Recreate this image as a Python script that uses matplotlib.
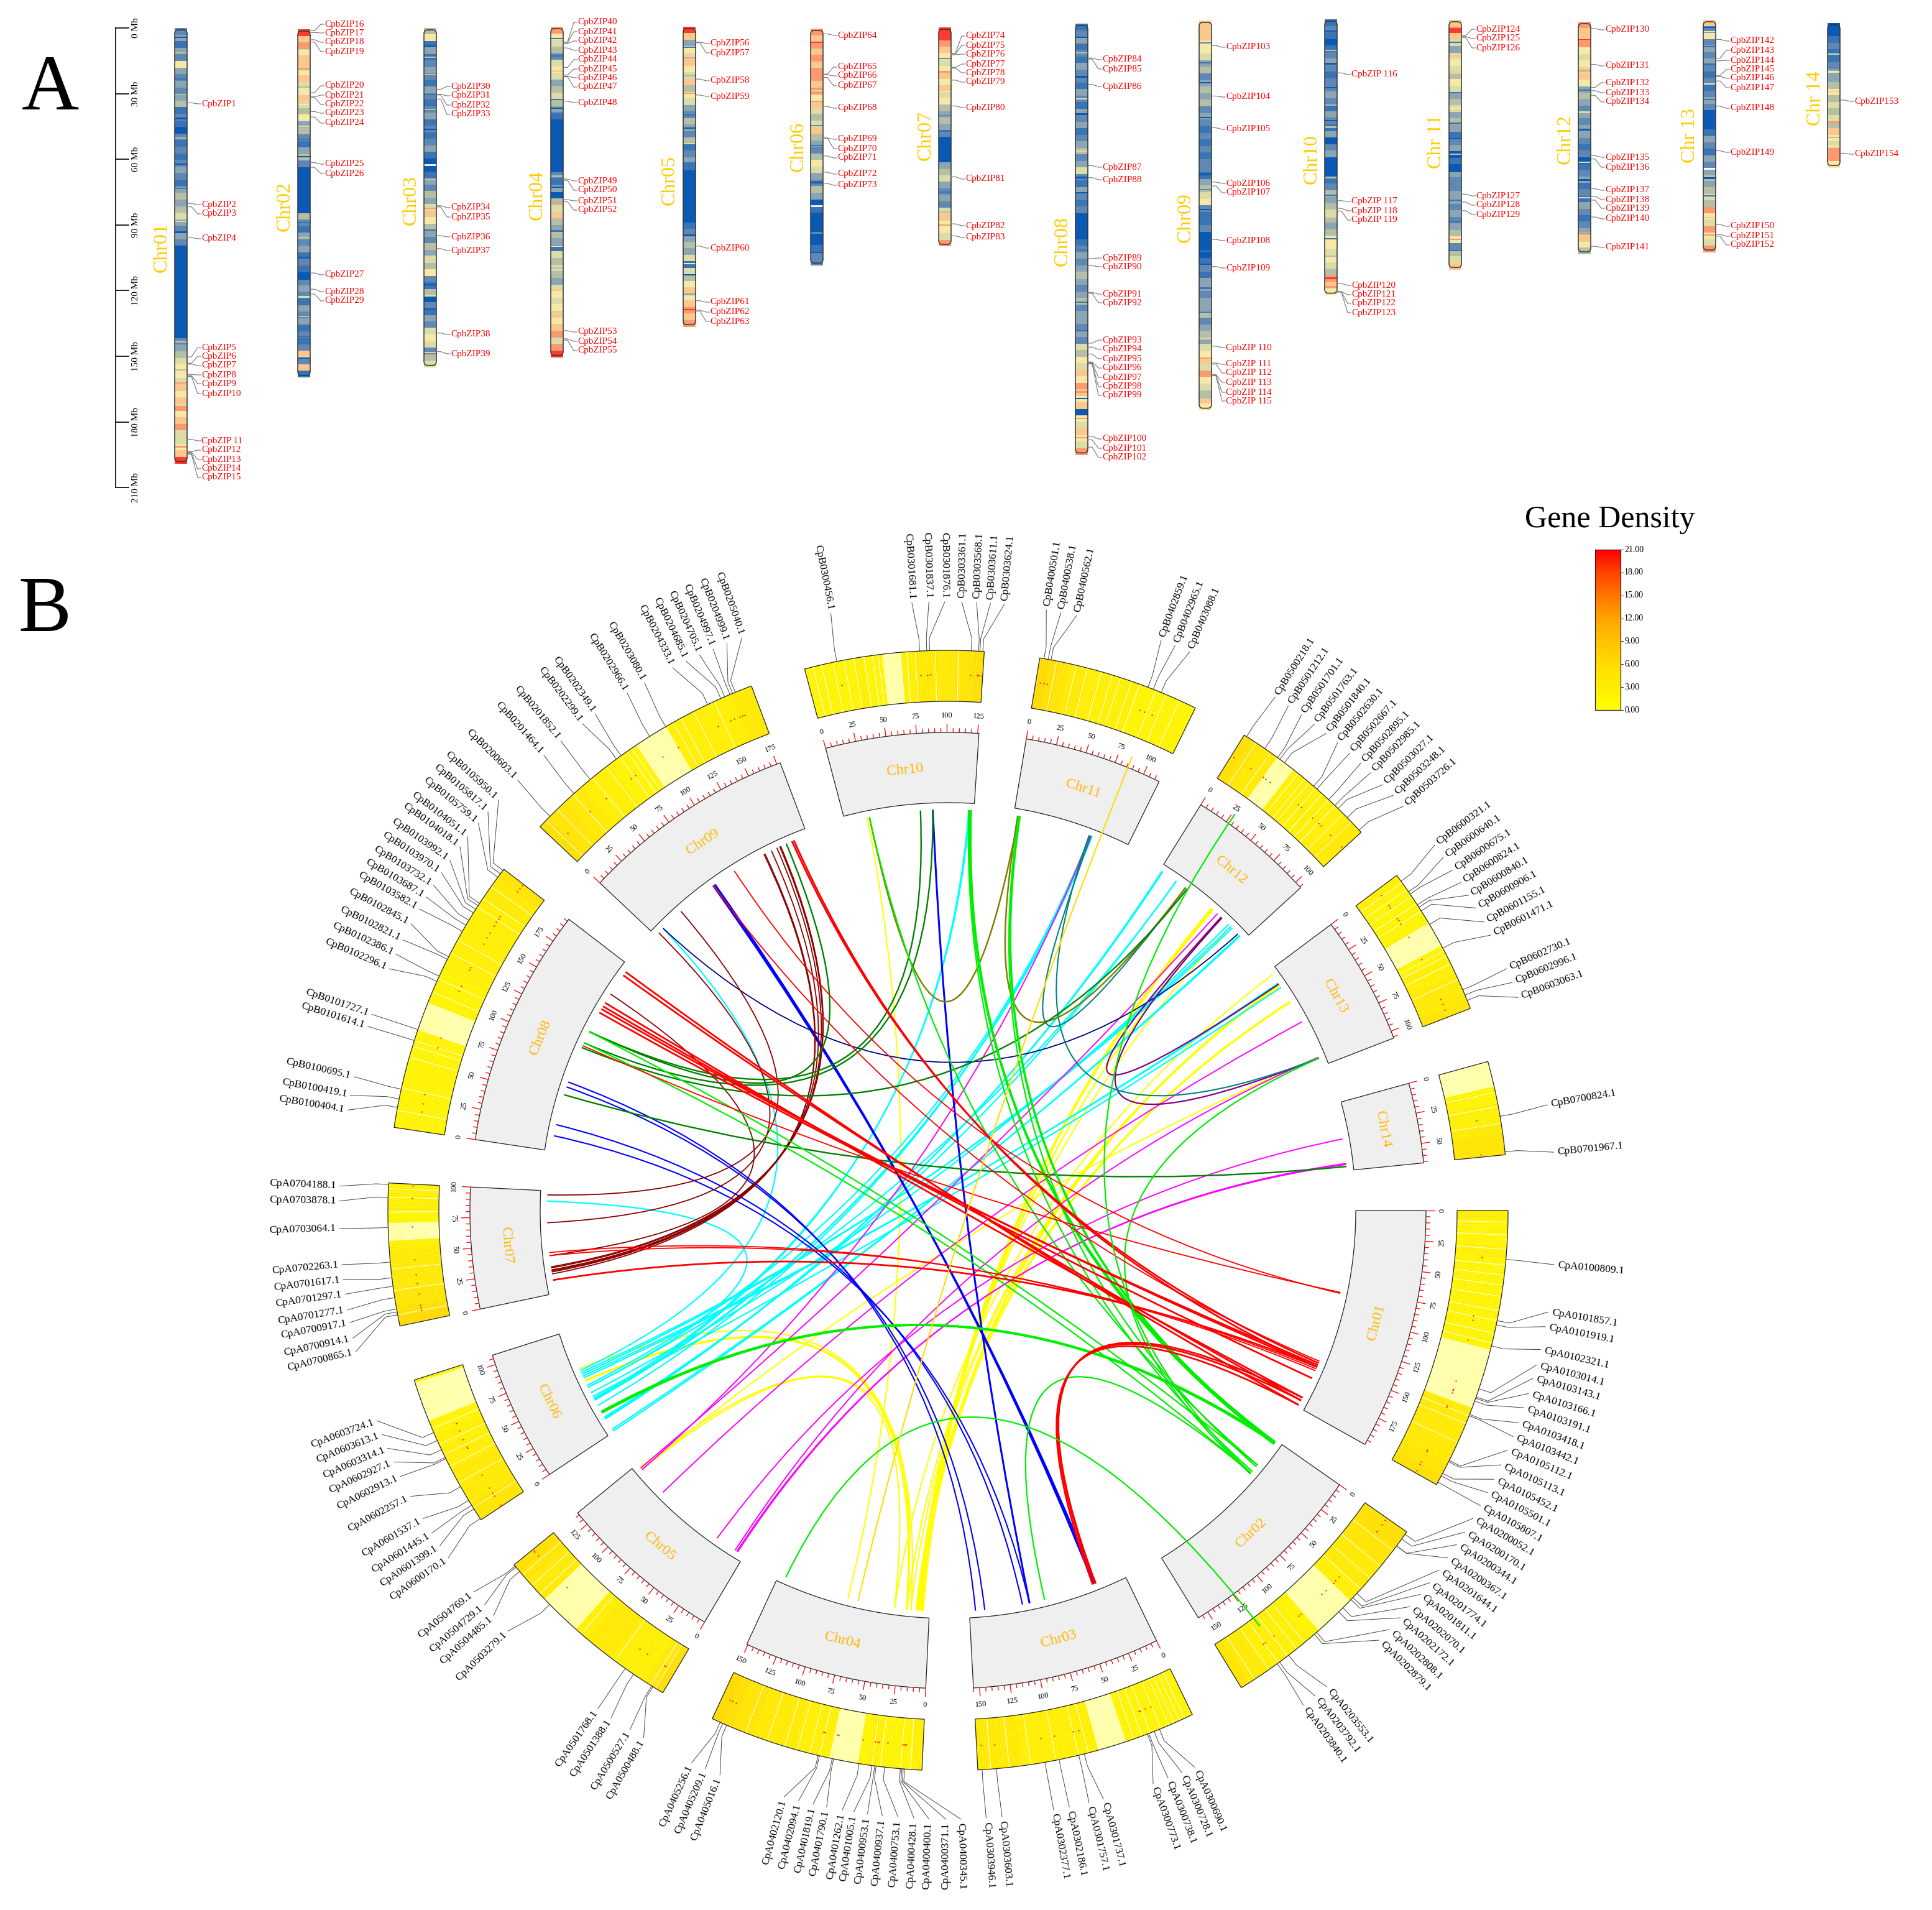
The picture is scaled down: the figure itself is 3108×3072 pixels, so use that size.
import numpy as np
import matplotlib
matplotlib.use('Agg')
import matplotlib.pyplot as plt
from matplotlib.collections import PolyCollection, LineCollection
from matplotlib.colors import LinearSegmentedColormap
from matplotlib.patches import FancyBboxPatch, PathPatch, Polygon
from matplotlib.path import Path

plt.rcParams['font.family'] = ['Liberation Serif', 'DejaVu Serif']

# ---------- panel A data ----------
# chromosome lengths (Mb)
chrom_len = [199, 159, 155, 151, 137, 108, 100, 197, 178, 126, 114, 106, 106, 66]

# gene density bands, 0 = sparse blue ... 9 = red
bands01 = [2,3,1,3,2,6,3,2,3,2,3,4,1,2,1,0,2,1,2,1,2,3,2,1,3,4,3,4,5,3,2,3,2,0,0,0,0,0,0,0,0,0,0,0,0,0,0,2,3,4,5,6,6,5,7,6,7,8,6,7,8,5,5,6,7,9]
bands02 = [9,7,8,6,7,7,6,7,5,6,7,5,4,6,3,4,2,1,3,4,2,0,0,0,0,0,0,0,4,2,1,3,2,3,1,2,1,0,2,3,2,1,3,2,3,1,2,1,2,7,2,7,1]
bands03 = [4,6,1,3,1,2,3,2,1,3,2,1,2,3,1,2,1,2,3,1,0,0,1,3,2,4,3,5,7,6,4,3,2,4,3,5,4,6,2,1,4,0,2,1,3,2,5,6,5,2,4,5]
bands04 = [8,6,5,4,2,5,6,5,3,4,5,4,3,1,0,0,0,0,0,0,0,0,2,1,3,0,4,5,7,4,3,4,3,1,5,4,5,4,3,5,6,5,6,7,6,7,8,5,8,9]
bands05 = [9,7,3,6,5,7,6,5,7,4,6,5,3,2,4,3,2,4,1,2,3,1,0,0,0,0,0,0,0,0,1,2,3,4,3,5,1,5,4,6,7,6,7,8,7,8]
bands06 = [8,7,8,7,8,7,8,8,7,8,6,7,5,4,5,7,4,3,2,4,6,5,3,2,4,3,0,1,0,0,0,0,0,1,2,2]
bands07 = [9,9,8,7,6,5,6,7,6,7,5,6,4,3,4,3,2,0,0,0,0,3,4,5,3,2,3,2,5,7,6,6,5,8]
bands08 = [1,2,3,1,2,1,3,2,2,1,3,2,1,3,2,3,1,2,3,4,2,3,5,2,1,3,2,1,2,0,0,0,0,1,2,3,2,3,4,3,2,3,4,2,3,3,2,3,2,5,4,6,5,7,6,8,7,6,7,0,6,5,7,6,5,8]
bands09 = [7,7,7,6,6,5,3,4,2,3,4,3,4,2,3,2,1,2,1,2,1,2,2,1,3,4,5,6,2,1,1,2,0,0,0,0,1,2,1,3,3,2,3,3,4,2,3,4,3,5,6,7,5,8,6,5,4,7,6]
bands10 = [1,2,1,0,1,2,3,2,1,2,2,3,2,1,3,2,1,3,0,2,3,0,0,0,1,2,4,3,4,5,4,3,4,6,6,5,6,5,4,8,7,6]
bands11 = [7,9,7,5,3,5,6,5,4,6,5,3,4,5,3,4,3,1,2,3,0,1,0,3,2,2,3,3,2,3,2,3,4,6,2,4,5,7]
bands12 = [8,7,7,8,6,5,6,5,7,6,3,4,3,2,3,2,3,3,2,1,2,0,1,2,3,1,2,1,3,2,1,2,3,7,6,4]
bands13 = [7,2,6,2,3,2,3,2,1,2,1,2,3,2,0,0,0,1,3,2,1,3,2,3,4,3,4,5,4,8,6,5,8,6,5,8]
bands14 = [0,0,1,2,1,1,2,3,3,4,6,4,5,4,5,4,7,6,5,8,8,6]

# narrow bands on top of those: (Mb, level)
fine01 = [(4,0),(11,4),(17,6),(23,1),(30,4),(41,0),(50,4),(62,0),(73,1),(88,5),(93,0),(143,4),(156,4),(162,8),(172,5),(184,5),(191,8)]
fine02 = [(9,5),(18,8),(26,4),(34,6),(44,5),(50,1),(58,0),(88,1),(95,4),(104,0),(114,0),(122,5),(131,4),(140,1),(150,0)]
fine03 = [(8,0),(13,4),(21,4),(30,1),(37,4),(46,0),(54,3),(69,4),(82,8),(92,1),(104,5),(117,0),(122,5),(128,0),(137,5),(148,7)]
fine04 = [(5,1),(13,1),(20,7),(27,4),(33,1),(37,0),(68,4),(73,0),(80,8),(93,1),(100,6),(110,4),(120,7),(131,5)]
fine05 = [(9,1),(14,8),(22,4),(30,8),(40,1),(46,0),(53,5),(62,1),(95,0),(100,4),(108,6),(113,0),(122,3),(129,9)]
fine06 = [(6,9),(17,5),(28,5),(33,8),(44,2),(53,1),(61,6),(70,0),(93,2),(102,0)]
fine07 = [(5,9),(14,2),(20,8),(29,6),(40,2),(47,1),(68,5),(75,1),(84,4),(90,8)]
fine08 = [(6,0),(13,4),(24,0),(34,5),(41,0),(50,1),(58,5),(70,0),(77,0),(103,1),(116,4),(127,1),(140,1),(147,5),(168,8),(171,0),(180,8),(189,8)]
fine09 = [(10,2),(19,1),(28,0),(36,4),(44,0),(56,1),(70,0),(77,2),(86,0),(105,1),(111,0),(122,1),(133,1),(145,5),(154,8),(162,8),(172,4)]
fine10 = [(5,0),(14,4),(20,0),(31,0),(39,4),(46,0),(49,4),(72,4),(80,1),(90,5),(100,1),(108,4),(118,9),(122,8)]
fine11 = [(3,8),(10,1),(16,7),(24,7),(33,1),(40,6),(47,1),(54,0),(61,4),(69,0),(82,1),(92,1),(100,8),(105,1)]
fine12 = [(8,9),(17,5),(22,8),(31,1),(41,5),(49,0),(57,1),(64,5),(72,0),(80,5),(90,1),(96,8),(100,7)]
fine13 = [(3,0),(5,6),(12,1),(20,1),(29,6),(36,1),(47,0),(60,1),(72,0),(80,1),(90,7),(98,8),(103,8)]
fine14 = [(7,1),(14,5),(22,6),(31,7),(45,8),(52,4),(56,6)]

# gap in the assembly (chromosome index, Mb)
white_gaps = [(3, 62.5), (6, 81), (13, 68)]

# first CpbZIP number on each chromosome
first_zip = [1, 16, 30, 40, 56, 64, 74, 84, 103, 116, 124, 130, 142, 153]
# these are printed with a wider gap in the source figure
spaced_zip = [11, 110, 111, 112, 113, 114, 115, 116, 117, 118, 119]

# CpbZIP gene positions (Mb)
zip01 = [34.2,80.2,81.7,95.8,150.3,153.2,153.6,158.3,158.8,159.2,188,193.6,193.9,194.4,194.8]
zip02 = [0.7,1.5,4.8,5.9,29,30.9,31.2,37.6,40.1,60.9,63.1,111.4,118.8,121]
zip03 = [28,30.3,30.6,32.5,81.2,81.8,94.9,100.8,139.4,147.9]
zip04 = [7,7.4,7.7,9.7,18.6,22.1,22.6,22.9,34,69.6,70.2,79,80,138.9,142.6,143.2]
zip05 = [7,7.3,23.9,31.2,100.2,125.2,129.5,129.9]
zip06 = [2.4,20.8,21.1,22.3,35.5,50,50,58.2,65.6,70.7]
zip07 = [11.9,12.2,12.5,18.3,18.6,24.1,35.9,68.3,89.8,95.3]
zip08 = [15.7,16.2,27.8,64.9,70.4,107.4,110.6,122.8,123.3,146,147.8,151,154.6,154.9,155.2,155.5,188.6,190.2,193.5]
zip09 = [11.4,34.5,49,73.8,75.6,100,112.4,148.8,156.5,157,161.7,162,162.3]
zip10 = [24.5,82.9,86.4,87.6,120.7,124.4,124.6,124.7]
zip11 = [7.1,7.6,8,79.6,83.2,87.2]
zip12 = [3.1,19.5,30,31.5,33.6,61.2,62.7,76.3,79.7,81.5,89.2,102.6]
zip13 = [8.9,17.5,18.7,25.5,25.8,27.9,39.4,59.8,93.5,98,98.8]
zip14 = [35.2,59.5]

# where the CpbZIP labels sit (pixel row)
zip_row01 = [167,329,344,384,559,573,588,603,617,633,709,724,739,754,768]
zip_row02 = [39,53,68,83,138,153,168,182,198,264,279,442,469,484]
zip_row03 = [139,154,169,184,334,349,381,403,538,569]
zip_row04 = [36,51,66,81,96,111,125,140,165,291,306,323,338,534,549,564]
zip_row05 = [70,85,130,155,399,486,502,517]
zip_row06 = [57,108,122,138,174,224,239,254,280,298]
zip_row07 = [58,73,87,103,117,132,173,288,363,382]
zip_row08 = [96,111,139,269,289,415,429,473,487,547,562,577,592,607,622,636,706,721,736]
zip_row09 = [76,156,208,295,310,387,431,559,586,600,615,631,645]
zip_row10 = [120,324,339,354,459,474,488,503]
zip_row11 = [47,62,77,315,330,345]
zip_row12 = [48,106,133,149,164,253,269,306,321,335,352,398]
zip_row13 = [66,81,97,112,126,141,174,245,364,380,394]
zip_row14 = [163,248]

chrom_names_a = ['Chr01','Chr02','Chr03','Chr04','Chr05','Chr06','Chr07','Chr08','Chr09','Chr10','Chr 11','Chr12','Chr 13','Chr 14']
mb_ticks = [0, 30, 60, 90, 120, 150, 180, 210]

# ---------- panel B data ----------
gene_prefix = ['CpA01','CpA02','CpA03','CpA04','CpA05','CpA06','CpA07','CpB01','CpB02','CpB03','CpB04','CpB05','CpB06','CpB07']
circle_names = ['Chr01','Chr02','Chr03','Chr04','Chr05','Chr06','Chr07','Chr08','Chr09','Chr10','Chr11','Chr12','Chr13','Chr14']

ids01 = ['00809','01857','01919','02321','03014','03143','03166','03191','03418','03442','05112','05113','05452','05501','05807']
ids02 = ['00052','00170','00344','00367','01644','01774','01811','02070','02172','02808','02879','03553','03792','03840']
ids03 = ['00690','00728','00738','00773','01737','01757','02186','02377','03603','03946']
ids04 = ['00345','00371','00400','00428','00753','00937','00953','01005','01262','01790','01819','02094','02120','05016','05209','05256']
ids05 = ['00488','00527','01388','01768','03279','04485','04729','04769']
ids06 = ['00170','01399','01445','01537','02257','02913','02927','03314','03613','03724']
ids07 = ['00865','00914','00917','01277','01297','01617','02263','03064','03878','04188']
ids08 = ['00404','00419','00695','01614','01727','02296','02386','02821','02845','03582','03687','03732','03970','03992','04018','04051','05759','05817','05950']
ids09 = ['00603','01464','01852','02299','02349','02966','03080','04333','04685','04705','04997','04999','05040']
ids10 = ['00456','01681','01837','01876','03361','03568','03611','03624']
ids11 = ['00501','00538','00562','02859','02965','03088']
ids12 = ['00218','01212','01701','01763','01840','02630','02667','02895','02985','03027','03248','03726']
ids13 = ['00321','00640','00675','00824','00840','00906','01155','01471','02730','02996','03063']
ids14 = ['00824','01967']

# gene position on its chromosome (Mb)
gene_mb01 = [34,77,80,95,126,132,133,135,145,146,180,181,190,192,197]
gene_mb02 = [2,6,12,12,55,59,61,69,73,94,96,119,127,129]
gene_mb03 = [25,29,33,34,80,84,98,108,142,152]
gene_mb04 = [12,13,14,15,26,32,33,35,44,62,63,72,73,140,143,145]
gene_mb05 = [8,9,24,31,100,131,135,136]
gene_mb06 = [1,9,12,16,27,49,50,56,63,69]
gene_mb07 = [8,10,12,20,28,34,45,69,90,99]
gene_mb08 = [14,20,27,62,70,106,110,123,125,145,150,154,160,163,166,168,190,193,196]
gene_mb09 = [10,33,48,71,75,99,112,145,155,158,162,164,166]
gene_mb10 = [23,81,86,88,117,122,123,125]
gene_mb11 = [3,6,8,78,82,88]
gene_mb12 = [2,17,28,30,34,60,63,74,80,83,92,104]
gene_mb13 = [5,14,16,25,27,30,41,60,92,96,100]
gene_mb14 = [39,64]

# label direction around the circle (degrees clockwise from east)
label_deg01 = [5.1,9.6,11,13.2,14.7,16,17.5,18.9,20.4,21.8,23.2,24.7,26.2,27.6,29]
label_deg02 = [30.4,31.9,33.3,34.8,36.2,37.7,39.1,40.6,42,43.5,44.9,51.5,52.9,54.3]
label_deg03 = [66.1,67.4,68.8,70.3,75.2,76.6,78.5,80,84.9,86.4]
label_deg04 = [88.8,90.2,91.8,93.2,94.7,96.2,97.6,98.9,100,101.5,102.8,104.2,105.6,112,113.5,114.9]
label_deg05 = [120,121.5,123.6,125.1,136.3,138.3,139.6,141.2]
label_deg06 = [145.2,146.6,148,149.6,152,154.1,155.6,157,158.4,159.8]
label_deg07 = [166.6,167.9,169.4,170.6,172.1,173.5,174.9,178.3,180.9,182.3]
label_deg08 = [189.5,190.9,192.7,197.6,198.8,203.4,204.9,206.4,208.1,209.7,211,212.3,213.7,215.1,216.7,217.9,219.5,220.9,222.4]
label_deg09 = [225,228.4,230.5,233.1,234.6,238.2,240.1,243.1,244.5,245.9,247.3,248.7,250.2]
label_deg10 = [258.9,266.6,268.2,269.7,271.3,272.7,274,275.3]
label_deg11 = [279.3,280.7,282.2,290.5,291.9,293.4]
label_deg12 = [302.5,304,305.5,307,308.4,309.8,311.3,312.7,314,315.6,317,318.4]
label_deg13 = [323.1,324.5,326,327.4,328.8,330.2,331.7,333.1,336.6,338,339.5]
label_deg14 = [350,354.5]

# density ring, scale 0-21
ring01 = [2,1,1,2,1,1,1,1,1,1,1,1,1,1,1,1,2,3,3,3,3,3,4,5]
ring02 = [5,5,4,4,3,3,3,2,2,2,2,1,1,1,2,2,2,2,2,3,3,4]
ring03 = [1,1,1,1,1,1,1,1,1,2,2,2,2,2,2,2,3,3,3,3]
ring04 = [2,1,1,1,2,1,1,1,2,2,2,2,3,3,3,3,4,4,5,6]
ring05 = [5,3,2,2,2,2,3,3,3,2,2,1,1,2,3,3,3,4,5]
ring06 = [4,4,3,3,3,3,2,2,2,2,1,1,1,1,1,1]
ring07 = [6,5,4,4,3,3,3,3,2,2,1,1,2,2,2]
ring08 = [1,1,1,1,1,1,1,1,1,1,1,1,1,1,2,2,2,2,2,2,2,3,3,4]
ring09 = [5,4,4,3,3,2,2,2,1,1,1,1,1,1,2,2,2,2,2,2,3,3]
ring10 = [1,1,1,1,1,2,1,1,1,2,2,3,3,3,3,4,4,5]
ring11 = [6,5,4,3,3,2,2,2,2,2,1,1,1,1,1,1]
ring12 = [5,4,3,3,3,2,2,2,2,2,2,2,2,2,3,3]
ring13 = [2,1,1,1,1,1,1,1,1,1,2,2,3,3,3,4]
ring14 = [1,1,1,1,2,2,3,4,4]

# washed-out stretches of the ring (Mb from, Mb to)
pale01 = [(98,140)]
pale02 = [(62,92)]
pale03 = [(50,70)]
pale04 = [(45,65)]
pale05 = [(75,105)]
pale06 = [(78,106)]
pale07 = [(60,72)]
pale08 = [(70,90)]
pale09 = [(88,112)]
pale10 = [(55,68)]
pale11 = []
pale12 = [(28,42)]
pale13 = [(40,58)]
pale14 = [(0,18)]

# white stripes in the ring (Mb)
stripes01 = [8,17,27,38,45,52,60,70,77,86,93,146,152,166]
stripes02 = [16,30,41,51,105,112,120,128,136,148]
stripes03 = [6,10,14,18,24,32,38,44,77,84,100,118,133,146]
stripes04 = [8,15,29,35,72,79,88,97,110,126]
stripes05 = [6,10,40,70,110,118,128]
stripes06 = [10,30,43,52,60,72,108]
stripes07 = [8,25,40,80,90,96]
stripes08 = [12,28,50,58,62,98,108,128,138,165,172,182]
stripes09 = [6,17,32,50,62,74,80,84,118,124,134,150]
stripes10 = [6,12,20,28,35,42,48,52,72,78,92,108]
stripes11 = [12,26,34,44,52,58,66,72,84,92,102]
stripes12 = [10,22,46,52,56,62,68,74,80,88,96]
stripes13 = [6,12,18,24,30,62,66,72,84]
stripes14 = [22,32,44]

# links: chromosome, Mb, chromosome, Mb
red_thin = [(8,107,1,80),(9,99,1,81),(9,74,1,150),(7,37,1,158),(7,40,1,160)]
red_thick = [(8,190,1,197),(8,186,1,192),(8,154,1,189),(8,150,1,168),(8,147,1,156),(8,143,1,154),(9,162,1,152),(9,164,1,156),(7,13,1,156),(3,29,1,189),(3,30,1,192),(3,32,1,197)]
dark_red = [(9,132,7,19),(9,133,7,21),(9,140,7,22),(9,146,7,23),(9,149,7,25),(9,150,7,26),(9,34,7,96),(9,4,7,69),(8,164,7,37)]
dark_green = [(9,156,8,122),(10,74,8,122),(10,86,8,110),(12,32,8,105),(14,62,8,56)]
blue_thin = [(8,69,3,149),(8,64,3,140),(8,26,3,103),(8,15,3,96)]
blue_thick = [(9,74,3,29),(9,76,3,31),(10,86,3,96)]
navy = [(9,10,12,98)]
purple = [(12,75,13,16),(12,76,13,98)]
teal = [(11,76,13,98),(11,78,12,30)]
olive = [(10,24,11,5),(11,4,12,30)]
cyan_links = [(7,90,6,50),(9,10,6,68),(6,1,12,100),(6,3,12,101),(6,15,12,2),(6,16,12,3),(6,17,12,19),(6,30,11,77),(6,36,11,78),(6,37,11,79),(6,40,13,20),(6,44,12,85),(6,50,12,19),(6,52,11,77),(10,121,6,36),(10,122,6,38),(6,60,13,15),(6,62,13,16),(6,64,12,88),(6,66,12,90)]
magenta = [(5,31,14,35),(5,7,14,59),(5,8,14,60),(5,100,13,59),(5,130,11,77),(5,132,12,70),(5,10,13,97)]
yellow_links = [(10,22,4,80),(4,34,13,5),(4,22,13,17),(4,18,13,18),(4,9,13,37),(4,6,12,62),(4,7,12,63),(4,8,12,75),(4,10,12,75),(4,11,12,64),(4,12,12,88),(4,13,13,36),(5,130,13,97),(5,133,4,22),(5,130,4,34),(6,70,4,18)]
yellow_thick = [(6,57,4,22),(4,7,12,64),(4,9,13,17)]
lime_thin = [(3,81,2,40),(13,98,2,41),(8,122,2,30),(8,110,2,40),(10,24,2,30),(11,5,2,32),(10,121,2,38)]
lime_thick = [(6,22,2,2),(6,23,2,3),(10,122,2,2),(11,6,2,3),(10,123,2,4)]
# these run on past the inner ring: last value is the radius they reach
lime_long = [(4,144,2,123,836),(2,40,12,27,787)]
yellow_long = [(4,70,11,86,788)]

colorbar_ticks = [0, 3, 6, 9, 12, 15, 18, 21]

# ---------- layout ----------
fig = plt.figure(figsize=(31.08, 30.72), dpi=100)
ax = fig.add_axes([0, 0, 1, 1])
ax.set_xlim(0, 3108)
ax.set_ylim(3072, 0)
ax.axis('off')

all_bands = [bands01,bands02,bands03,bands04,bands05,bands06,bands07,bands08,bands09,bands10,bands11,bands12,bands13,bands14]
all_fine = [fine01,fine02,fine03,fine04,fine05,fine06,fine07,fine08,fine09,fine10,fine11,fine12,fine13,fine14]
all_zip = [zip01,zip02,zip03,zip04,zip05,zip06,zip07,zip08,zip09,zip10,zip11,zip12,zip13,zip14]
all_rows = [zip_row01,zip_row02,zip_row03,zip_row04,zip_row05,zip_row06,zip_row07,zip_row08,zip_row09,zip_row10,zip_row11,zip_row12,zip_row13,zip_row14]

bar_x = [291, 489, 692, 896, 1109, 1314, 1520, 1740, 1939, 2141, 2341, 2549, 2750, 2950]
bar_top = [45, 47, 45, 43, 43, 46, 44, 38, 33, 31, 32, 35, 32, 37]
name_x = [260, 458, 661, 864, 1077, 1284, 1489, 1709, 1907, 2110, 2310, 2518, 2719, 2920]
name_y = [398, 332, 322, 314, 290, 236, 218, 388, 350, 256, 228, 224, 218, 158]
px_per_mb = 3.52
GOLD = '#FFCC00'

band_cmap = LinearSegmentedColormap.from_list('bands', ['#0a59b5','#3a74b5','#6088b5','#8ba5b3','#b5bfa6','#dcdca8','#f6e9a8','#fbc98c','#fb9a72','#ff3b2f'])

# Mb scale bar
scale_x = 186
scale_top = 45
ax.plot([scale_x, scale_x], [scale_top, scale_top + 210 * px_per_mb], color='black', lw=1.2)
for t in mb_ticks:
    y = scale_top + t * px_per_mb
    ax.plot([scale_x, scale_x + 21], [y, y], color='black', lw=1.2)
    ax.text(scale_x + 33, y, '%d Mb' % t, rotation=90, ha='center', va='center', fontsize=11)

ax.text(81, 145, 'A', fontsize=92, ha='center', va='center')
ax.text(72, 984, 'B', fontsize=92, ha='center', va='center')

for i in range(14):
    x = bar_x[i]
    top = bar_top[i]
    vals = np.array(all_bands[i]) / 9.0
    step = chrom_len[i] * px_per_mb / len(vals)
    ax.bar([x] * len(vals), [step + 0.5] * len(vals), width=20,
           bottom=top + step * np.arange(len(vals)), color=band_cmap(vals), linewidth=0, zorder=2)
    for mb, level in all_fine[i]:
        ax.bar([x], [2.2], width=20, bottom=top + mb * px_per_mb, color=band_cmap(level / 9.0), linewidth=0, zorder=2.1)
    ax.add_patch(FancyBboxPatch((x - 10, top + 3), 20, chrom_len[i] * px_per_mb - 6, boxstyle='round,pad=0,rounding_size=6',
                                fc='none', ec='#333333', lw=1.1, zorder=3, mutation_aspect=1))
    ax.text(name_x[i], name_y[i], chrom_names_a[i], rotation=90, color=GOLD, fontsize=23, ha='center', va='center')
    for k, (mb, row) in enumerate(zip(all_zip[i], all_rows[i])):
        y = top + mb * px_per_mb
        num = first_zip[i] + k
        ax.plot([x + 10, x + 17, x + 27, x + 32], [y, y, row, row], color='#777777', lw=0.8, zorder=3)
        name = 'CpbZIP %d' % num if num in spaced_zip else 'CpbZIP%d' % num
        ax.text(x + 33, row, name, color='red', fontsize=11, ha='left', va='center')

for c, mb in white_gaps:
    y = bar_top[c - 1] + mb * px_per_mb
    ax.plot([bar_x[c - 1] - 9, bar_x[c - 1] + 9], [y, y], color='white', lw=2, zorder=2.5)

# ---------- panel B ----------
CX, CY = 1525, 1947
R_GRAY_IN, R_GRAY_OUT = 656, 769
R_RING_IN, R_RING_OUT = 819, 901
R_LINK = 645
R_LABEL = 985
DEG_PER_MB = 0.1472
GAP = (360 - sum(chrom_len) * DEG_PER_MB) / 14
ORANGE = '#FFB700'

ring_cmap = LinearSegmentedColormap.from_list('ring', [(0, '#FFFF00'), (6 / 21, '#FFDD00'), (12 / 21, '#FFA500'), (18 / 21, '#FF4500'), (1, '#FF0000')])

starts = np.concatenate([[0], np.cumsum(np.array(chrom_len) * DEG_PER_MB + GAP)[:-1]])


def pol(deg, r):
    a = np.radians(deg)
    return CX + r * np.cos(a), CY + r * np.sin(a)


def theta(c, mb):
    return starts[c - 1] + mb * DEG_PER_MB


def sector_poly(d0, d1, r0, r1):
    aa = np.linspace(d0, d1, 40)
    xo, yo = pol(aa, r1)
    xi, yi = pol(aa[::-1], r0)
    return np.column_stack([np.r_[xo, xi], np.r_[yo, yi]])


def tangent_rot(deg):
    rot = -deg - 90
    while rot <= -90:
        rot += 180
    while rot > 90:
        rot -= 180
    return rot


def ring_lines(c, positions):
    return [[pol(theta(c, m), R_RING_IN), pol(theta(c, m), R_RING_OUT)] for m in positions]


all_ring = [ring01,ring02,ring03,ring04,ring05,ring06,ring07,ring08,ring09,ring10,ring11,ring12,ring13,ring14]
all_pale = [pale01,pale02,pale03,pale04,pale05,pale06,pale07,pale08,pale09,pale10,pale11,pale12,pale13,pale14]
all_stripes = [stripes01,stripes02,stripes03,stripes04,stripes05,stripes06,stripes07,stripes08,stripes09,stripes10,stripes11,stripes12,stripes13,stripes14]
all_ids = [ids01,ids02,ids03,ids04,ids05,ids06,ids07,ids08,ids09,ids10,ids11,ids12,ids13,ids14]
all_mb = [gene_mb01,gene_mb02,gene_mb03,gene_mb04,gene_mb05,gene_mb06,gene_mb07,gene_mb08,gene_mb09,gene_mb10,gene_mb11,gene_mb12,gene_mb13,gene_mb14]
all_deg = [label_deg01,label_deg02,label_deg03,label_deg04,label_deg05,label_deg06,label_deg07,label_deg08,label_deg09,label_deg10,label_deg11,label_deg12,label_deg13,label_deg14]

for i in range(14):
    c = i + 1
    L = chrom_len[i]
    d0, d1 = theta(c, 0), theta(c, L)

    # grey sector, ticks and names
    ax.add_patch(Polygon(sector_poly(d0, d1, R_GRAY_IN, R_GRAY_OUT), closed=True, fc='#EFEFEF', ec='#222222', lw=0.9, zorder=2))
    segs = []
    for m in range(0, L + 1, 5):
        tick = 14 if m % 25 == 0 else 7
        segs.append([pol(theta(c, m), R_GRAY_OUT), pol(theta(c, m), R_GRAY_OUT + tick)])
    ax.add_collection(LineCollection(segs, colors='#FF1010', linewidths=1.0, zorder=2))
    for m in range(0, L + 1, 25):
        tx, ty = pol(theta(c, m), R_GRAY_OUT + 27)
        ax.text(tx, ty, str(m), fontsize=9, rotation=tangent_rot(theta(c, m)), ha='center', va='center', rotation_mode='anchor')
    nx, ny = pol((d0 + d1) / 2, 712)
    ax.text(nx, ny, circle_names[i], color=ORANGE, fontsize=17, rotation=tangent_rot((d0 + d1) / 2), ha='center', va='center', rotation_mode='anchor')

    # density ring
    shade = np.array(all_ring[i], dtype=float)
    edges = np.linspace(d0, d1, len(shade) + 1)
    polys = [sector_poly(edges[k], edges[k + 1] + 0.02, R_RING_IN, R_RING_OUT)[[0, 39, 40, 79]] for k in range(len(shade))]
    ax.add_collection(PolyCollection(polys, facecolors=ring_cmap(shade / 21), edgecolors='none', zorder=2))
    # fine grain of the track
    ax.add_collection(LineCollection(ring_lines(c, np.arange(0.4, L, 1.3)), colors='#FFB000', linewidths=0.5, alpha=0.28, zorder=2.05))
    ax.add_collection(LineCollection(ring_lines(c, np.arange(1.0, L, 1.9)), colors='white', linewidths=0.4, alpha=0.28, zorder=2.05))
    for a, b in all_pale[i]:
        ax.add_patch(Polygon(sector_poly(theta(c, a), theta(c, b), R_RING_IN, R_RING_OUT), closed=True, fc='#FFFF66', ec='none', zorder=2.1))
        ax.add_collection(LineCollection(ring_lines(c, np.arange(a, b, 0.7)), colors='white', linewidths=0.7, alpha=0.75, zorder=2.2))
    ax.add_collection(LineCollection(ring_lines(c, all_stripes[i]), colors='white', linewidths=0.8, alpha=0.85, zorder=2.2))
    ax.add_patch(Polygon(sector_poly(d0, d1, R_RING_IN, R_RING_OUT), closed=True, fc='none', ec='#222222', lw=0.9, zorder=2.3))

    # gene labels
    for gid, mb, deg in zip(all_ids[i], all_mb[i], all_deg[i]):
        gd = theta(c, mb)
        p0 = pol(gd, R_RING_OUT)
        p1 = pol(gd, R_RING_OUT + 20)
        p2 = pol(deg, R_LABEL - 6)
        ax.plot([p0[0], p1[0], p2[0]], [p0[1], p1[1], p2[1]], color='#444444', lw=0.7, zorder=2.4)
        dot = pol(gd, 862)
        ax.scatter([dot[0]], [dot[1]], s=3, color='#FF3300', linewidths=0, zorder=2.4)
        tx, ty = pol(deg, R_LABEL)
        d = deg % 360
        if d <= 90 or d >= 270:
            ax.text(tx, ty, gene_prefix[i] + gid + '.1', rotation=-d, ha='left', va='center', rotation_mode='anchor', fontsize=12.6)
        else:
            ax.text(tx, ty, gene_prefix[i] + gid + '.1', rotation=180 - d, ha='right', va='center', rotation_mode='anchor', fontsize=12.6)


def draw_link(c1, m1, c2, m2, color, lw, r2=R_LINK):
    p0 = np.array(pol(theta(c1, m1), R_LINK))
    p1 = np.array(pol(theta(c2, m2), r2))
    mid = (p0 + p1) / 2 - np.array([CX, CY])
    ctrl = np.array([CX, CY]) + 0.06 * mid
    path = Path([p0, ctrl, p1], [Path.MOVETO, Path.CURVE3, Path.CURVE3])
    ax.add_patch(PathPatch(path, fc='none', ec=color, lw=lw, capstyle='butt', zorder=5))


for links, color, lw in [(yellow_links, '#FFFF00', 1.5), (yellow_thick, '#FFFF00', 2.6),
                         (cyan_links, '#00FFFF', 1.6), (magenta, '#FF00FF', 1.4),
                         (blue_thin, '#0000FF', 1.5), (blue_thick, '#0000FF', 2.2),
                         (navy, '#000080', 1.3), (purple, '#800080', 1.6), (teal, '#008080', 1.5),
                         (olive, '#808000', 1.8), (dark_red, '#8B0000', 1.3), (dark_green, '#008000', 1.7),
                         (lime_thin, '#00EE00', 1.6), (lime_thick, '#00EE00', 2.6),
                         (red_thin, '#FF0000', 1.3), (red_thick, '#FF0000', 2.0)]:
    for c1, m1, c2, m2 in links:
        draw_link(c1, m1, c2, m2, color, lw)
for c1, m1, c2, m2, r in lime_long:
    draw_link(c1, m1, c2, m2, '#00EE00', 1.6, r2=r)
for c1, m1, c2, m2, r in yellow_long:
    draw_link(c1, m1, c2, m2, '#FFDD00', 1.5, r2=r)

# colour bar
grad = np.linspace(1, 0, 256).reshape(-1, 1)
ax.imshow(grad, cmap=ring_cmap, extent=[2566, 2607, 1142, 884], aspect='auto', zorder=2)
ax.set_xlim(0, 3108)
ax.set_ylim(3072, 0)
ax.plot([2566, 2607, 2607, 2566, 2566], [884, 884, 1142, 1142, 884], color='#222222', lw=0.9)
for t in colorbar_ticks:
    y = 1142 - t / 21 * (1142 - 884)
    ax.plot([2607, 2611], [y, y], color='#222222', lw=0.7)
    ax.text(2613, y, '%.2f' % t, fontsize=10, ha='left', va='center')
ax.text(2590, 836, 'Gene Density', fontsize=36, ha='center', va='center')

fig.savefig('out.png', dpi=100, facecolor='white')
